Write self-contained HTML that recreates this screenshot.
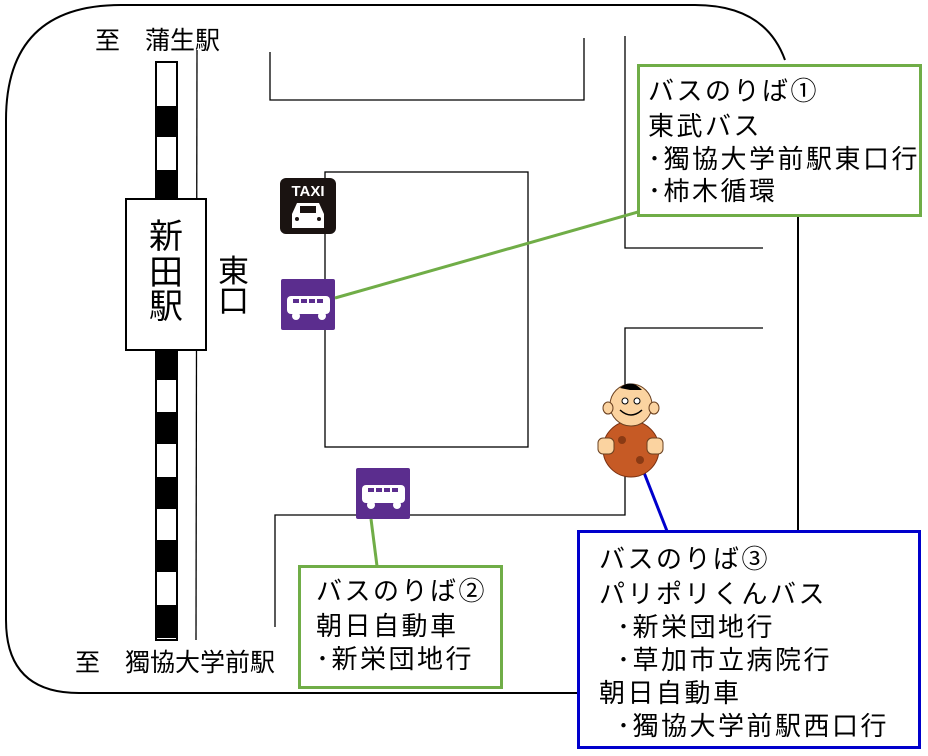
<!DOCTYPE html>
<html><head><meta charset="utf-8"><style>
html,body{margin:0;padding:0;background:#fff;}
svg{display:block;}
text{font-family:"Liberation Sans","Noto Sans CJK JP",sans-serif;fill:#000;}
.bx text{letter-spacing:2.5px;}
</style></head><body>
<svg width="928" height="756" viewBox="0 0 928 756" xmlns="http://www.w3.org/2000/svg">
<path d="M578,693 L79,693 Q6,693 6,620 L6,120 Q6,5 121,5 L695,5 Q765,5 785,60" fill="none" stroke="#000" stroke-width="2"/>
<line x1="798" y1="200" x2="798" y2="530" stroke="#000" stroke-width="2"/>
<g fill="none" stroke="#000" stroke-width="1.3">
<path d="M270,52 L270,100 L584,100 L584,38"/>
<rect x="325" y="172" width="203" height="275"/>
<path d="M625,36 L625,248 L763,248"/>
<path d="M763,328 L625,328 L625,515 L275,515 L275,627"/>
<line x1="197" y1="50" x2="196" y2="640"/>
</g>
<rect x="156" y="62" width="21" height="578" fill="#fff" stroke="#000" stroke-width="2"/>
<g fill="#000">
<rect x="155" y="106" width="23" height="31"/>
<rect x="155" y="170" width="23" height="31"/>
<rect x="155" y="350" width="23" height="30"/>
<rect x="155" y="412" width="23" height="32"/>
<rect x="155" y="477" width="23" height="32"/>
<rect x="155" y="540" width="23" height="32"/>
<rect x="155" y="605" width="23" height="33"/>
</g>
<rect x="126" y="199" width="80" height="151" fill="#fff" stroke="#000" stroke-width="2"/>
<text x="166" y="248" font-size="34" text-anchor="middle">新</text>
<text x="166" y="284" font-size="34" text-anchor="middle">田</text>
<text x="166" y="318" font-size="34" text-anchor="middle">駅</text>
<text x="218" y="282" font-size="31">東</text>
<text x="218" y="312" font-size="31">口</text>
<text x="95" y="49" font-size="25">至　蒲生駅</text>
<text x="75" y="671" font-size="25">至　獨協大学前駅</text>
<rect x="280" y="178" width="56" height="56" rx="6" fill="#1a1311"/>
<text x="308" y="196" font-size="15" font-weight="bold" text-anchor="middle" style="fill:#fff">TAXI</text>
<path d="M292,228 L292,214 L297,203 L319,203 L324,214 L324,228 Z" fill="#fff"/>
<rect x="300" y="206" width="16" height="7" fill="#1a1311"/>
<circle cx="297" cy="219" r="2" fill="#1a1311"/><circle cx="319" cy="219" r="2" fill="#1a1311"/>
<g id="bus">
<rect x="281" y="279" width="54" height="51" rx="2" fill="#5b2d8e"/>
<rect x="287" y="296" width="43" height="18" rx="4" fill="#fff"/>
<circle cx="296" cy="316" r="4" fill="#fff"/><circle cx="322" cy="316" r="4" fill="#fff"/>
<g fill="#5b2d8e"><rect x="293" y="299" width="6" height="4"/><rect x="301" y="299" width="6" height="4"/><rect x="309" y="299" width="6" height="4"/><rect x="317" y="299" width="6" height="4"/></g>
</g>
<use href="#bus" x="75" y="189"/>
<line x1="335" y1="298" x2="638" y2="212" stroke="#70ad47" stroke-width="3"/>
<line x1="371" y1="519" x2="377" y2="566" stroke="#70ad47" stroke-width="3"/>
<line x1="643" y1="470" x2="667" y2="531" stroke="#0000cc" stroke-width="3"/>
<circle cx="631" cy="449" r="28" fill="#c65a25" stroke="#7a3010" stroke-width="1"/>
<circle cx="622" cy="440" r="4" fill="#8a3a14"/><circle cx="640" cy="460" r="4" fill="#8a3a14"/>
<ellipse cx="631" cy="405" rx="21" ry="21" fill="#fbd3a0" stroke="#6a4020" stroke-width="1"/>
<ellipse cx="608" cy="408" rx="5" ry="6" fill="#fbd3a0" stroke="#6a4020"/>
<ellipse cx="654" cy="408" rx="5" ry="6" fill="#fbd3a0" stroke="#6a4020"/>
<path d="M620,388 Q631,378 642,390 L630,390 Z" fill="#000"/>
<circle cx="625" cy="401" r="3" fill="#fff" stroke="#000"/><circle cx="637" cy="401" r="3" fill="#fff" stroke="#000"/>
<path d="M620,410 Q631,420 642,410" fill="none" stroke="#000" stroke-width="1.5"/>
<rect x="598" y="438" width="16" height="16" rx="5" fill="#fbd3a0" stroke="#6a4020"/>
<rect x="647" y="438" width="16" height="16" rx="5" fill="#fbd3a0" stroke="#6a4020"/>
<rect x="638.5" y="65.5" width="282" height="150" fill="#fff" stroke="#70ad47" stroke-width="3"/>
<g font-size="26" class="bx">
<text x="648" y="100">バスのりば①</text>
<text x="648" y="135">東武バス</text>
<text x="648" y="168">･獨協大学前駅東口行</text>
<text x="648" y="200">･柿木循環</text>
</g>
<rect x="299.5" y="566.5" width="202" height="121" fill="#fff" stroke="#70ad47" stroke-width="3"/>
<g font-size="26" class="bx">
<text x="316" y="600">バスのりば②</text>
<text x="316" y="635">朝日自動車</text>
<text x="316" y="668">･新栄団地行</text>
</g>
<rect x="578.5" y="531.5" width="341" height="216" fill="#fff" stroke="#0000cc" stroke-width="3"/>
<g font-size="26" class="bx">
<text x="599" y="568">バスのりば③</text>
<text x="599" y="603">パリポリくんバス</text>
<text x="617" y="636">･新栄団地行</text>
<text x="617" y="669">･草加市立病院行</text>
<text x="599" y="702">朝日自動車</text>
<text x="617" y="735">･獨協大学前駅西口行</text>
</g>
</svg>
</body></html>
